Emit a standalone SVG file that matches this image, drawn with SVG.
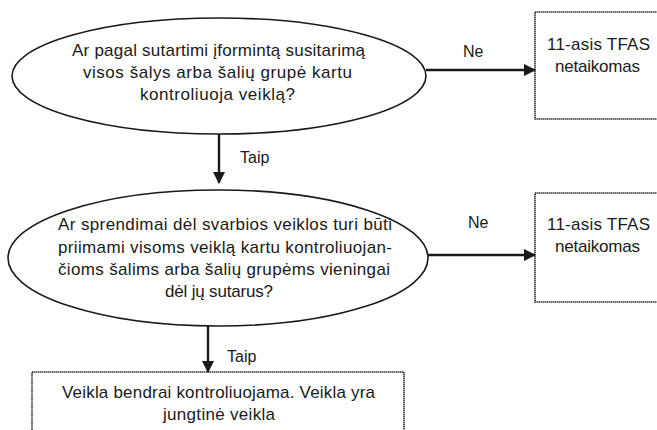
<svg xmlns="http://www.w3.org/2000/svg" width="657" height="430" viewBox="0 0 657 430">
<defs>
<marker id="ah" markerWidth="12" markerHeight="12" refX="11" refY="6" orient="auto" markerUnits="userSpaceOnUse" viewBox="0 0 12 12">
<path d="M0,0 L12,6 L0,12 z" fill="#1a1a1a"/>
</marker>
<style>
.shape{fill:#fff;stroke:#1a1a1a;stroke-width:1.6}
.box{fill:#fff;stroke:#333;stroke-width:1.6;stroke-dasharray:1.5 0.5}
.t{font-family:"Liberation Sans",Arial,sans-serif;font-size:17px;fill:#1a1a1a;text-anchor:middle}
.l{font-family:"Liberation Sans",Arial,sans-serif;font-size:16px;fill:#1a1a1a}
.c{stroke:#1a1a1a;stroke-width:2.4;fill:none;marker-end:url(#ah)}
</style>
</defs>
<rect width="657" height="430" fill="#fff"/>
<g id="q1">
<ellipse class="shape" cx="219" cy="76" rx="207" ry="58"/>
<text class="t" x="218.5" y="56" textLength="293" lengthAdjust="spacing">Ar pagal sutartimi įformintą susitarimą</text>
<text class="t" x="217.5" y="78" textLength="269" lengthAdjust="spacing">visos šalys arba šalių grupė kartu</text>
<text class="t" x="217.5" y="100" textLength="155" lengthAdjust="spacing">kontroliuoja veiklą?</text>
</g>
<g id="r1">
<rect class="box" x="535" y="12" width="130" height="107"/>
<text class="t" x="598.5" y="50" textLength="103" lengthAdjust="spacing">11-asis TFAS</text>
<text class="t" x="597.5" y="72" textLength="85" lengthAdjust="spacing">netaikomas</text>
</g>
<g id="q2">
<ellipse class="shape" cx="218" cy="258" rx="210" ry="68"/>
<text class="t" x="225" y="230" textLength="334" lengthAdjust="spacing">Ar sprendimai dėl svarbios veiklos turi būti</text>
<text class="t" x="225" y="253" textLength="334" lengthAdjust="spacing">priimami visoms veiklą kartu kontroliuojan-</text>
<text class="t" x="224" y="275" textLength="332" lengthAdjust="spacing">čioms šalims arba šalių grupėms vieningai</text>
<text class="t" x="219" y="297" textLength="108" lengthAdjust="spacing">dėl jų sutarus?</text>
</g>
<g id="r2">
<rect class="box" x="535" y="193" width="130" height="109"/>
<text class="t" x="598.5" y="230" textLength="103" lengthAdjust="spacing">11-asis TFAS</text>
<text class="t" x="597.5" y="252" textLength="85" lengthAdjust="spacing">netaikomas</text>
</g>
<g id="r3">
<rect class="box" x="32" y="372" width="372" height="70"/>
<text class="t" x="218.5" y="398" textLength="313" lengthAdjust="spacing">Veikla bendrai kontroliuojama. Veikla yra</text>
<text class="t" x="219" y="420" textLength="112" lengthAdjust="spacing">jungtinė veikla</text>
</g>
<g id="connectors">
<line class="c" x1="219" y1="134" x2="219" y2="183"/>
<text class="l" x="240" y="163">Taip</text>
<line class="c" x1="426" y1="70" x2="535" y2="70"/>
<text class="l" x="463" y="57">Ne</text>
<line class="c" x1="208" y1="326" x2="208" y2="372"/>
<text class="l" x="227" y="362">Taip</text>
<line class="c" x1="428" y1="255" x2="535" y2="255"/>
<text class="l" x="468" y="228">Ne</text>
</g>
</svg>
